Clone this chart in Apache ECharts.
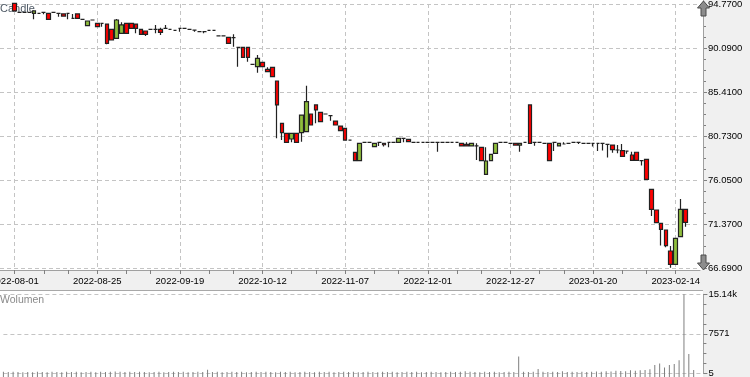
<!DOCTYPE html>
<html><head><meta charset="utf-8">
<script src="https://cdn.jsdelivr.net/npm/echarts@6/dist/echarts.min.js"></script>
<style>html,body{margin:0;padding:0;background:#f0f0f0}#c{width:750px;height:377px}</style>
</head><body><div id="c"></div>
<script>
// ---- categories (trading days) ----
const dates = [
'2022-07-27','2022-07-28','2022-07-29',
'2022-08-01','2022-08-02','2022-08-03','2022-08-04','2022-08-05',
'2022-08-08','2022-08-09','2022-08-10','2022-08-11','2022-08-12',
'2022-08-16','2022-08-17','2022-08-18','2022-08-19',
'2022-08-22','2022-08-23','2022-08-24','2022-08-25','2022-08-26',
'2022-08-29','2022-08-30','2022-08-31','2022-09-01','2022-09-02',
'2022-09-05','2022-09-06','2022-09-07','2022-09-08','2022-09-09',
'2022-09-12','2022-09-13','2022-09-14','2022-09-15','2022-09-16',
'2022-09-19','2022-09-20','2022-09-21','2022-09-22','2022-09-23',
'2022-09-26','2022-09-27','2022-09-28','2022-09-29','2022-09-30',
'2022-10-03','2022-10-04','2022-10-05','2022-10-06','2022-10-07',
'2022-10-10','2022-10-11','2022-10-12','2022-10-13','2022-10-14',
'2022-10-17','2022-10-18','2022-10-19','2022-10-20','2022-10-21',
'2022-10-24','2022-10-25','2022-10-26','2022-10-27','2022-10-28',
'2022-10-31','2022-11-02','2022-11-03','2022-11-04',
'2022-11-07','2022-11-08','2022-11-09','2022-11-10',
'2022-11-14','2022-11-15','2022-11-16','2022-11-17','2022-11-18',
'2022-11-21','2022-11-22','2022-11-23','2022-11-24','2022-11-25',
'2022-11-28','2022-11-29','2022-11-30','2022-12-01','2022-12-02',
'2022-12-05','2022-12-06','2022-12-07','2022-12-08','2022-12-09',
'2022-12-12','2022-12-13','2022-12-14','2022-12-15','2022-12-16',
'2022-12-19','2022-12-20','2022-12-21','2022-12-22','2022-12-23',
'2022-12-27','2022-12-28','2022-12-29','2022-12-30',
'2023-01-02','2023-01-03','2023-01-04','2023-01-05',
'2023-01-09','2023-01-10','2023-01-11','2023-01-12','2023-01-13',
'2023-01-16','2023-01-17','2023-01-18','2023-01-19','2023-01-20',
'2023-01-23','2023-01-24','2023-01-25','2023-01-26','2023-01-27',
'2023-01-30','2023-01-31','2023-02-01','2023-02-02','2023-02-03',
'2023-02-06','2023-02-07','2023-02-08','2023-02-09','2023-02-10',
'2023-02-13','2023-02-14','2023-02-15','2023-02-16','2023-02-17',
'2023-02-20','2023-02-21'];

// ---- prices (null = no candle shown) ----
const openP = [null,null,null,
94.84,93.88,93.88,93.88,93.78,93.78,93.88,93.78,93.88,93.78,93.71,93.78,93.25,93.71,93.14,92.47,93.07,92.71,92.71,92.64,92.08,91.12,91.65,92.71,92.71,92.64,92.08,91.90,
92.08,92.08,92.08,92.18,92.08,91.97,92.18,92.18,92.08,92.00,91.83,91.83,91.97,91.97,91.37,91.37,91.23,91.19,90.16,90.16,90.16,88.35,88.10,88.57,87.82,88.03,86.58,82.08,81.01,80.41,
81.01,81.08,81.19,83.07,84.03,83.25,83.07,82.89,82.32,81.79,81.55,80.30,78.99,78.11,80.06,80.06,79.60,80.06,79.95,80.06,80.06,80.06,80.48,80.37,80.06,80.06,80.06,80.06,80.06,80.06,
80.06,80.06,80.06,80.06,79.95,79.84,79.67,79.67,79.53,76.65,78.11,78.89,80.06,80.06,79.95,79.95,79.77,80.06,84.03,80.06,80.06,79.95,79.95,80.06,79.67,79.88,79.95,80.06,80.06,79.95,
79.95,79.95,79.95,79.95,79.84,79.77,79.24,79.17,79.13,78.71,79.00,78.11,78.25,75.06,72.86,71.44,70.73,68.50,67.08,70.02,72.93,
null,null,null];
const closeP = [null,null,null,
94.03,93.88,93.88,93.88,94.03,93.78,93.88,93.14,93.88,93.78,93.49,93.78,93.25,93.25,93.14,92.96,93.07,92.36,92.71,90.59,90.94,93.07,92.54,91.65,92.18,92.18,91.54,91.54,
92.08,92.08,91.76,92.18,92.08,91.97,92.18,92.18,92.08,92.00,91.83,91.83,91.97,91.97,91.37,91.37,90.59,91.19,90.16,89.10,89.10,88.35,88.99,88.10,87.57,87.04,84.03,81.08,80.06,81.01,
80.06,82.96,84.38,81.90,83.50,82.26,83.07,82.89,81.90,81.30,80.30,80.30,78.11,79.95,80.06,80.06,79.95,80.06,79.80,80.06,80.06,80.48,80.48,80.13,80.06,80.06,80.06,80.06,80.06,80.06,
80.06,80.06,80.06,80.06,79.67,79.67,79.95,79.67,78.11,78.07,78.78,79.95,80.06,80.06,79.95,79.77,79.95,80.06,79.95,80.06,80.06,79.95,78.11,80.06,79.95,79.88,79.95,80.06,80.06,79.95,
79.95,79.95,79.95,79.95,79.84,79.28,79.24,78.56,79.13,78.14,78.14,78.11,76.12,72.93,71.51,70.80,69.07,67.08,69.85,72.93,71.55,
null,null,null];
const lowP = [null,null,null,
94.00,93.88,93.88,93.88,93.14,93.72,93.67,93.14,93.88,93.42,93.49,93.14,93.25,93.25,93.14,92.47,93.07,92.36,92.36,90.50,90.94,91.12,91.65,91.65,92.18,91.65,91.54,91.37,
92.08,91.65,91.47,92.18,92.08,91.97,91.83,92.18,92.08,91.83,91.83,91.65,91.97,91.97,91.37,91.37,90.59,90.23,88.10,89.10,88.64,88.35,87.47,88.10,87.57,87.04,80.48,80.30,80.06,80.06,
80.06,80.13,81.19,81.90,82.08,82.26,83.07,82.36,81.90,81.30,80.30,80.30,78.11,78.11,80.06,80.06,79.53,79.67,79.60,79.53,80.06,80.06,80.06,80.13,80.06,80.06,80.06,80.06,80.06,79.06,
80.06,80.06,80.06,80.06,79.67,79.67,79.67,78.18,78.11,76.58,78.11,78.89,80.06,80.06,79.95,79.77,79.06,80.06,79.95,79.70,80.06,79.95,78.11,79.13,79.67,79.88,79.95,80.06,79.88,79.95,
79.95,79.60,79.13,79.20,78.44,78.95,78.89,78.56,78.85,78.14,78.14,77.58,76.12,72.22,71.51,69.07,68.90,66.72,67.08,70.02,71.09,
null,null,null];
const highP = [null,null,null,
94.84,93.88,93.88,93.88,94.03,93.78,93.88,93.78,93.88,93.78,93.71,93.78,93.71,93.71,93.14,92.96,93.07,92.71,92.71,92.64,92.08,93.18,92.82,92.71,92.71,92.64,92.08,91.90,
92.08,92.54,92.25,92.54,92.08,91.97,92.18,92.18,92.08,92.00,91.83,91.83,91.97,91.97,91.37,91.37,91.23,91.54,90.16,90.16,90.16,88.35,89.35,88.57,88.03,88.03,86.58,82.08,81.01,81.01,
81.01,82.96,86.08,83.07,84.03,83.25,83.07,82.89,82.32,81.79,81.55,80.30,78.99,79.95,80.06,80.06,79.95,80.06,79.95,80.06,80.06,80.48,80.48,80.37,80.06,80.06,80.06,80.06,80.06,80.06,
80.06,80.06,80.06,80.06,79.95,80.06,79.95,79.95,79.53,79.53,78.78,79.95,80.06,80.06,79.95,79.95,79.95,80.06,84.03,80.06,80.06,79.95,79.95,80.06,79.95,80.06,79.95,80.06,80.06,79.95,
79.95,79.95,79.95,79.95,79.84,79.77,79.77,79.88,79.13,79.06,79.00,78.11,78.25,75.06,72.86,71.44,70.73,69.03,69.85,74.03,72.93,
null,null,null];

// ---- volume ----
const volume = [
300,250,300,
250,200,250,200,300,250,200,300,250,200,300,250,300,200,250,300,200,300,250,300,350,300,250,300,250,300,250,200,
250,300,200,250,300,250,300,200,250,300,250,700,250,300,200,250,300,250,300,200,250,300,250,300,250,200,300,250,300,200,
250,300,250,200,300,250,300,200,250,300,250,300,200,250,300,250,200,300,250,300,200,250,300,250,300,200,250,300,250,200,
250,300,250,300,400,300,250,200,300,250,300,200,250,300,250,3200,300,250,300,830,300,250,300,250,400,250,300,250,300,250,
300,350,300,400,350,500,450,400,600,500,600,650,800,1600,1900,1100,1600,1800,2500,15137,3700,640,
null,null];

// ---- axis ticks ----
const priceTicks = [66.69, 71.37, 76.05, 80.73, 85.41, 90.09, 94.77];
const volumeTicks = [5, 7571, 15137];
const firstLabelIdx = 3, labelStep = 17;

const isLabel = i => i >= firstLabelIdx && (i - firstLabelIdx) % labelStep === 0;
const isTick = i => { const r = (((i - firstLabelIdx) % labelStep) + labelStep) % labelStep; return r === 0 || r === 6 || r === 11; };

const candleData = dates.map((d, i) => openP[i] == null ? '-' : [openP[i], closeP[i], lowP[i], highP[i]]);
const volData = dates.map((d, i) => volume[i] == null ? '-' : volume[i]);

const FONT = 'Liberation Sans';
const grid0 = { left: 0, top: 4, width: 700, height: 264, outerBoundsMode: 'none', containLabel: false };
const grid1 = { left: 3.4, top: 294.3, width: 700, height: 79, outerBoundsMode: 'none', containLabel: false };

const chart = echarts.init(document.getElementById('c'), null, { renderer: 'canvas' });
chart.setOption({
  animation: false,
  backgroundColor: '#f0f0f0',
  grid: [grid0, grid1],
  graphic: {
    elements: [
      { type: 'rect', z: -20, silent: true, shape: { x: 0, y: 0, width: 703, height: 270 }, style: { fill: '#ffffff' } },
      { type: 'rect', z: -20, silent: true, shape: { x: 0, y: 291, width: 703, height: 86 }, style: { fill: '#ffffff' } },
      { type: 'line', z: 5, silent: true, shape: { x1: 0, y1: 290.5, x2: 703, y2: 290.5 }, style: { stroke: '#a8a8a8', lineWidth: 1 } },
      { type: 'line', z: 5, silent: true, shape: { x1: 703.5, y1: 0, x2: 703.5, y2: 270 }, style: { stroke: '#a0a0a0', lineWidth: 1 } },
      { type: 'polygon', z: 50, silent: true, shape: { points: [[703.5, 1], [709.5, 8], [706, 8], [706, 16], [701, 16], [701, 8], [697.5, 8]] }, style: { fill: '#8c8c8c', stroke: '#4a4a4a', lineWidth: 1 } },
      { type: 'polygon', z: 50, silent: true, shape: { points: [[703.5, 270], [709.5, 263], [706, 263], [706, 255], [701, 255], [701, 263], [697.5, 263]] }, style: { fill: '#8c8c8c', stroke: '#4a4a4a', lineWidth: 1 } },
      { type: 'text', z: 1, silent: true, x: 0, y: 3, style: { text: 'Candle', font: '11px "Liberation Sans"', fill: '#4f5a66' } },
      { type: 'text', z: 1, silent: true, x: 0, y: 295, style: { text: 'Wolumen', font: '10.5px "Liberation Sans"', fill: '#8a8a8a' } }
    ]
  },
  xAxis: [
    {
      type: 'category', gridIndex: 0, data: dates, boundaryGap: false, offset: 2,
      axisLine: { show: true, lineStyle: { color: '#a0a0a0' } },
      axisTick: { show: true, interval: (i) => isTick(i), length: 4, lineStyle: { color: '#808080' } },
      axisLabel: { interval: (i) => isLabel(i), color: '#000', fontFamily: FONT, fontSize: 9.5, margin: 6 },
      splitLine: { show: true, interval: (i) => isLabel(i), lineStyle: { color: '#c4c4c4', type: [4, 3] } }
    },
    {
      type: 'category', gridIndex: 1, data: dates, boundaryGap: false, show: false
    }
  ],
  yAxis: [
    {
      type: 'value', gridIndex: 0, position: 'right', offset: 3,
      min: priceTicks[0], max: priceTicks[priceTicks.length - 1], interval: priceTicks[1] - priceTicks[0],
      axisLine: { show: true, lineStyle: { color: '#a0a0a0' } },
      axisTick: { show: true, length: 4, lineStyle: { color: '#808080' } },
      minorTick: { show: true, splitNumber: 4, length: 3, lineStyle: { color: '#808080' } },
      axisLabel: { color: '#000', fontFamily: FONT, fontSize: 9.5, margin: 5, formatter: v => v.toFixed(4) },
      splitLine: { show: true, lineStyle: { color: '#c4c4c4', type: [4, 3] } }
    },
    {
      type: 'value', gridIndex: 1, position: 'right',
      min: volumeTicks[0], max: volumeTicks[2], interval: volumeTicks[1] - volumeTicks[0],
      startValue: -720,
      axisLine: { show: true, lineStyle: { color: '#a0a0a0' } },
      axisTick: { show: true, length: 4, lineStyle: { color: '#808080' } },
      minorTick: { show: true, splitNumber: 4, length: 3, lineStyle: { color: '#808080' } },
      axisLabel: { color: '#000', fontFamily: FONT, fontSize: 9.5, margin: 5, formatter: v => v >= 10000 ? (v / 1000).toFixed(2) + 'k' : String(Math.round(v)) },
      splitLine: { show: true, lineStyle: { color: '#c4c4c4', type: [4, 3] } }
    }
  ],
  series: [
    {
      type: 'candlestick', xAxisIndex: 0, yAxisIndex: 0, data: candleData, barWidth: 4.2, clip: false,
      itemStyle: { color: '#8fbe3c', color0: '#ff0000', borderColor: '#222222', borderColor0: '#222222', borderWidth: 1.2 }
    },
    {
      type: 'bar', xAxisIndex: 1, yAxisIndex: 1, data: volData, barWidth: 1, clip: false,
      itemStyle: { color: '#7f7f7f' }
    }
  ]
});
</script></body></html>
